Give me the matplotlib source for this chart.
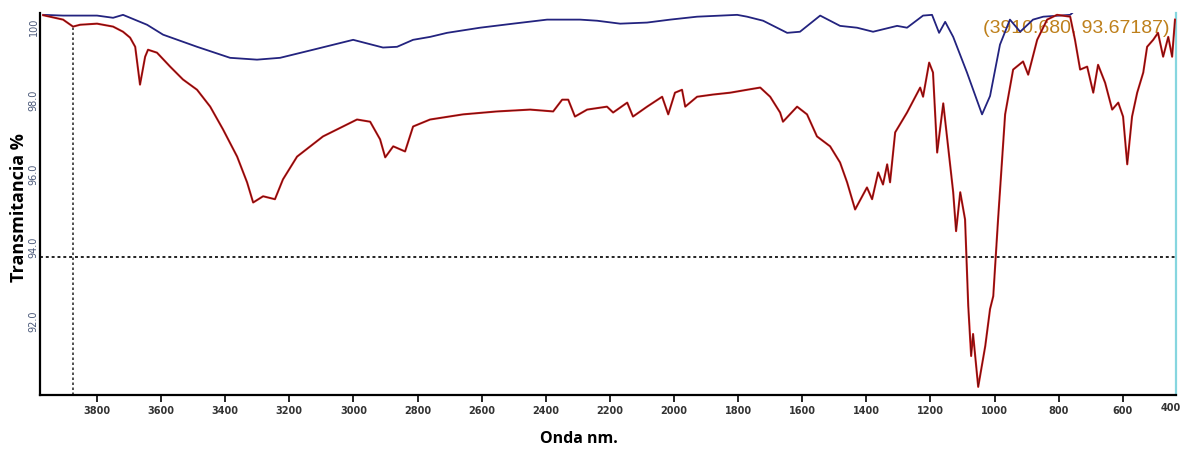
import numpy as np
import matplotlib.pyplot as plt
from matplotlib.transforms import blended_transform_factory

# FTIR spectra
# ---------------------------------------------------------
# red (lower) spectrum: wavenumber / transmittance
red_wn = [3968, 3906, 3875, 3853, 3800, 3750, 3719, 3697, 3681, 3666, 3650, 3641,
          3613, 3572, 3532, 3488, 3447, 3407, 3363, 3332, 3313, 3282, 3245, 3220,
          3176, 3095, 2989, 2948, 2917, 2901, 2876, 2839, 2814, 2761, 2658, 2552,
          2449, 2377, 2349, 2330, 2309, 2271, 2209, 2190, 2146, 2128, 2084, 2037,
          2018, 1997, 1975, 1965, 1928, 1878, 1825, 1772, 1731, 1700, 1669, 1660,
          1616, 1585, 1554, 1513, 1482, 1460, 1435, 1398, 1382, 1363, 1348, 1335,
          1326, 1310, 1273, 1232, 1223, 1204, 1192, 1179, 1160, 1129, 1120, 1107,
          1092, 1082, 1073, 1067, 1051, 1029, 1014, 1004, 989, 967, 942, 911, 895,
          867, 836, 805, 764, 749, 733, 711, 692, 677, 655, 633, 614, 599, 586, 571,
          555, 536, 524, 505, 490, 474, 458, 446, 437]
red_t = [100.30, 100.18, 99.99, 100.04, 100.07, 99.99, 99.85, 99.69, 99.44, 98.41, 99.17, 99.36,
         99.28, 98.90, 98.55, 98.27, 97.81, 97.19, 96.45, 95.75, 95.20, 95.37, 95.29, 95.83,
         96.45, 97.00, 97.46, 97.40, 96.92, 96.43, 96.73, 96.59, 97.27, 97.46, 97.60, 97.68,
         97.73, 97.68, 98.00, 98.00, 97.54, 97.73, 97.81, 97.65, 97.92, 97.54, 97.81, 98.08,
         97.60, 98.19, 98.27, 97.81, 98.08, 98.14, 98.19, 98.27, 98.33, 98.08, 97.65, 97.40,
         97.81, 97.60, 97.00, 96.73, 96.29, 95.75, 95.01, 95.61, 95.29, 96.02, 95.69, 96.24,
         95.75, 97.11, 97.65, 98.33, 98.08, 99.01, 98.74, 96.56, 97.90, 95.48, 94.42, 95.48,
         94.74, 92.38, 91.02, 91.62, 90.18, 91.29, 92.30, 92.65, 94.74, 97.60, 98.82, 99.04, 98.68,
         99.63, 100.18, 100.31, 100.26, 99.63, 98.82, 98.90, 98.19, 98.95, 98.46, 97.73, 97.92, 97.54, 96.24, 97.54,
         98.19, 98.74, 99.44, 99.63, 99.82, 99.17, 99.71, 99.17, 100.18]

# blue (upper) spectrum
blue_wn = [3968, 3906, 3800, 3750, 3719, 3644, 3594, 3488, 3385, 3301, 3229, 3126,
           3001, 2908, 2864, 2814, 2761, 2708, 2605, 2502, 2396, 2293, 2240, 2168,
           2084, 2012, 1928, 1803, 1772, 1722, 1647, 1607, 1544, 1482, 1429, 1379,
           1304, 1273, 1223, 1195, 1173, 1154, 1129, 1086, 1039, 1014, 983, 952,
           920, 880, 848, 764, 740]
blue_t = [100.31, 100.29, 100.29, 100.23, 100.31, 100.04, 99.77, 99.44, 99.14, 99.09, 99.14, 99.36,
          99.63, 99.42, 99.44, 99.63, 99.71, 99.82, 99.96, 100.07, 100.18, 100.18, 100.15, 100.07,
          100.10, 100.18, 100.26, 100.31, 100.26, 100.15, 99.82, 99.85, 100.29, 100.01, 99.96, 99.85,
          100.01, 99.96, 100.29, 100.31, 99.82, 100.12, 99.71, 98.74, 97.60, 98.10, 99.50, 100.18,
          99.85, 100.18, 100.26, 100.31, 100.50]

x_ticks = [3800, 3600, 3400, 3200, 3000, 2800, 2600, 2400, 2200, 2000,
           1800, 1600, 1400, 1200, 1000, 800, 600]
y_ticks = [92.0, 94.0, 96.0, 98.0, 100.0]
y_ticklabels = ['92.0', '94.0', '96.0', '98.0', '100']

cursor_x, cursor_y = 3875, 93.72
cursor_text = '(3910.680, 93.67187)'

# PLOT
# ---------------------------------------------------------
fig = plt.figure(figsize=(11.87, 4.52), dpi=100)
ax = fig.add_axes([0.0337, 0.124, 0.957, 0.845])

ax.plot(blue_wn, blue_t, color='#23237f', lw=1.3, zorder=3)
ax.plot(red_wn, red_t, color='#d61c1c', lw=1.5, zorder=3)
ax.plot(red_wn, red_t, color='#2a0808', lw=0.6, alpha=0.7, zorder=4)

# cursor cross-hair
ax.axhline(cursor_y, color='#222222', ls=(0, (1.5, 1.5)), lw=1.4, zorder=2)
ax.plot([cursor_x, cursor_x], [89.0, 99.99], color='#333333', ls=(0, (1.5, 1.5)), lw=1.2, zorder=2)

ax.text(0.994, 0.985, cursor_text, transform=ax.transAxes, ha='right', va='top',
        fontsize=14, color='#be801c', family='Liberation Sans', zorder=1)

ax.set_xlim(3978, 434)
ax.set_ylim(89.96, 100.36)

ax.set_xticks(x_ticks)
ax.set_xticklabels([str(t) for t in x_ticks], fontsize=7, fontweight='bold', color='#333333')
ax.set_yticks(y_ticks)
ax.set_yticklabels(y_ticklabels, fontsize=7, rotation=90, va='center', color='#4a5878')
ax.tick_params(axis='x', direction='out', length=5, width=1.2, pad=2)
ax.tick_params(axis='y', direction='out', length=0, pad=1)

# the 400 label sits at the cut right edge
trans = blended_transform_factory(ax.transAxes, ax.transAxes)
ax.text(0.995, -0.018, '400', transform=trans, ha='center', va='top',
        fontsize=7, fontweight='bold', color='#333333')

ax.spines['top'].set_visible(False)
ax.spines['left'].set_linewidth(1.6)
ax.spines['bottom'].set_linewidth(1.6)
ax.spines['right'].set_color('#86d6df')
ax.spines['right'].set_linewidth(1.6)

fig.text(0.016, 0.54, 'Transmitancia %', rotation=90, ha='center', va='center',
         fontsize=13, fontweight='bold', family='Open Sans')
fig.text(0.488, 0.028, 'Onda nm.', ha='center', va='center',
         fontsize=11.5, fontweight='bold', family='Open Sans')

fig.savefig('out.png', dpi=100)
